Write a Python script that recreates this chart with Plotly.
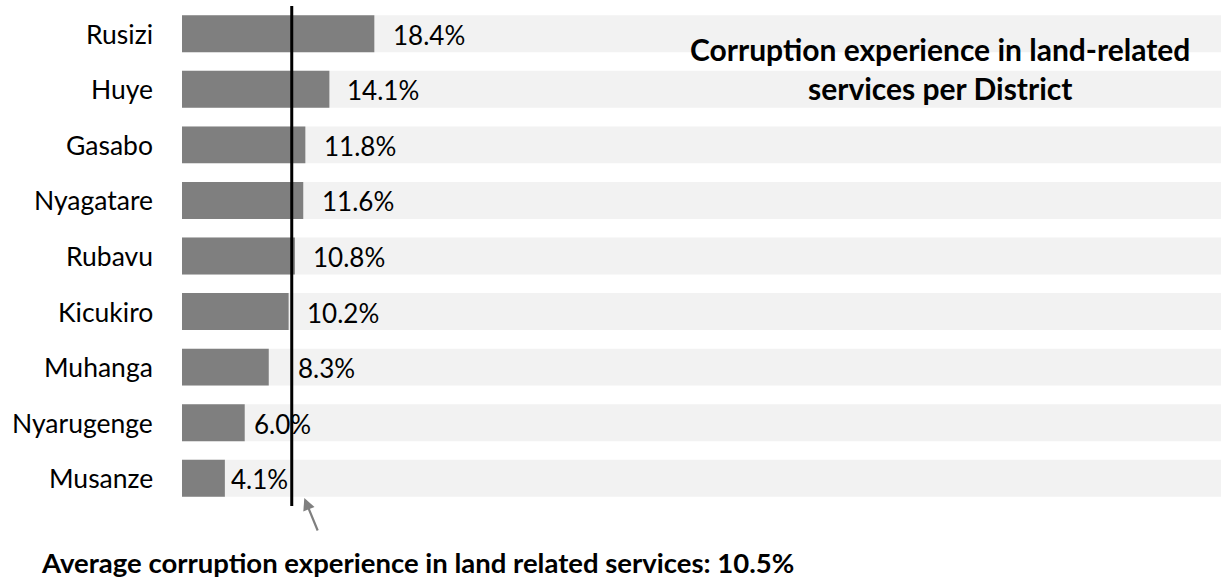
import plotly.graph_objects as go

# District results (share of respondents, %)
districts = ["Rusizi", "Huye", "Gasabo", "Nyagatare", "Rubavu",
             "Kicukiro", "Muhanga", "Nyarugenge", "Musanze"]
values = [18.4, 14.1, 11.8, 11.6, 10.8, 10.2, 8.3, 6.0, 4.1]
full_scale = [100] * len(districts)
average = 10.5

title_lines = ["Corruption experience in land-related", "services per District"]
average_note = f"Average corruption experience in land related services: {average}%"

# horizontal nudge (px) of each value label from its bar end
label_nudge = [17, 16, 17, 17, 16, 16, 27, 7, 4]

FONT = "Lato"
W, H = 1221, 579
fig = go.Figure()

# light track behind every bar
fig.add_trace(go.Bar(
    y=districts, x=full_scale, orientation="h",
    marker=dict(color="#f2f2f2", line=dict(width=0)),
    width=0.665, hoverinfo="skip", showlegend=False,
))
fig.add_trace(go.Bar(
    y=districts, x=values, orientation="h",
    marker=dict(color="#7f7f7f", line=dict(width=0)),
    width=0.665, showlegend=False,
))

annotations = []
for d, v, dx in zip(districts, values, label_nudge):
    annotations.append(dict(
        x=v, y=d, xref="x", yref="y", text=f"{v:.1f}%",
        showarrow=False, xanchor="left", yanchor="middle", xshift=dx, yshift=-1,
        font=dict(family=FONT, size=26, color="#000000"),
    ))
    annotations.append(dict(
        x=0, y=d, xref="paper", yref="y", text=d,
        showarrow=False, xanchor="right", yanchor="middle", xshift=-27,
        font=dict(family=FONT, size=26.5, color="#000000"),
    ))

# title, two centred lines
for txt, yy in zip(title_lines, [0.914, 0.836]):
    annotations.append(dict(
        x=0.7295, y=yy, xref="paper", yref="paper", text=f"<b>{txt}</b>",
        showarrow=False, xanchor="center", yanchor="middle",
        font=dict(family=FONT, size=30, color="#000000"),
    ))

# pointer to the average line
annotations.append(dict(
    x=average + 1.2, y=0.016, xref="x", yref="paper", text="",
    showarrow=True, arrowhead=2, arrowsize=1.1, arrowwidth=2.2,
    arrowcolor="#7f7f7f", ax=14, ay=34, standoff=0,
))
annotations.append(dict(
    x=0.2262, y=-0.112, xref="paper", yref="paper", text=f"<b>{average_note}</b>",
    showarrow=False, xanchor="center", yanchor="middle",
    font=dict(family=FONT, size=27.5, color="#000000"),
))

fig.add_shape(type="line", xref="x", yref="paper",
              x0=average, x1=average, y0=0.0, y1=1.0,
              line=dict(color="#000000", width=3))

fig.update_layout(
    width=W, height=H,
    margin=dict(l=182, r=0, t=6, b=73),
    paper_bgcolor="white", plot_bgcolor="white",
    barmode="overlay", bargap=0.335,
    annotations=annotations,
    xaxis=dict(range=[0, 99.4], visible=False, fixedrange=True),
    yaxis=dict(categoryorder="array", categoryarray=districts,
               range=[len(districts) - 0.5, -0.5],
               showticklabels=False, showgrid=False, zeroline=False,
               ticks="", showline=False),
)

fig.write_html("out.html")
